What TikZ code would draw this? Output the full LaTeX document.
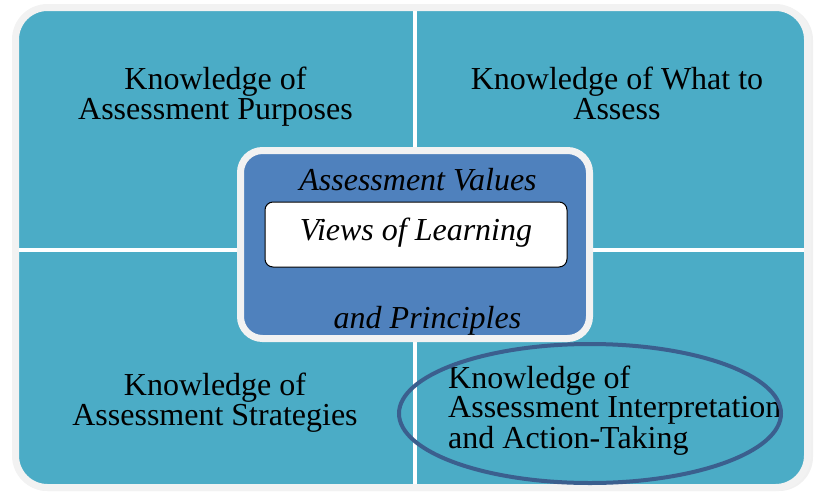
\documentclass[tikz,border=0pt]{standalone}
\usepackage{fontspec}
\setmainfont{Liberation Serif}
\usetikzlibrary{shapes.geometric}
\definecolor{aquafill}{HTML}{4BACC6}
\definecolor{bluefill}{HTML}{4F81BD}
\definecolor{ringblue}{HTML}{3B5F8E}
\definecolor{framegrey}{HTML}{F2F2F2}
\begin{document}
\begin{tikzpicture}[x=1pt,y=-1pt,
  quadtext/.style={inner sep=0pt, font=\fontsize{32}{30}\selectfont, align=center, anchor=base},
  coretext/.style={inner sep=0pt, font=\fontsize{32}{30}\selectfont\itshape, anchor=base},
  divider/.style={white, line width=4pt}]
\useasboundingbox (0,0) rectangle (814,491);
% soft shadow
\fill[black!6, rounded corners=34] (14,6) rectangle (813,491);
% outer panel
\draw[framegrey, line width=7pt, fill=aquafill, rounded corners=32] (15.5,7.5) rectangle (807.5,487.5);
% dividers
\coordinate (vt) at (415,11);
\coordinate (vb) at (415,484);
\coordinate (hl) at (19,250);
\coordinate (hr) at (804,250);
\draw[divider] (vt) -- (vb);
\draw[divider] (hl) -- (hr);
% quadrant texts (anchor base = last line's baseline)
\node[quadtext] (tl) at (215.5,119) {Knowledge of\\Assessment Purposes};
\node[quadtext] (tr) at (617,119) {Knowledge of What to\\Assess};
\node[quadtext] (bl) at (215,425) {Knowledge of\\Assessment Strategies};
\node[quadtext, align=left, anchor=base west, font=\fontsize{32}{29}\selectfont] (br) at (448,448) {Knowledge of\\Assessment Interpretation\\and Action-Taking};
% ellipse highlight
\node[ellipse, draw=ringblue, line width=4pt, minimum width=382, minimum height=139, inner sep=0pt] (ring) at (590,413.5) {};
% central box
\node[draw=framegrey, line width=7pt, fill=bluefill, rounded corners=22, minimum width=349, minimum height=188, inner sep=0pt] (core) at (415,244.5) {};
\node[coretext] (values) at (418,190) {Assessment Values};
\node[draw=black, line width=1pt, fill=white, rounded corners=8, minimum width=302, minimum height=65, inner sep=0pt, text height=20pt, text depth=9pt, font=\fontsize{32}{30}\selectfont\itshape] (views) at (416,234.5) {Views of Learning};
\node[coretext] (principles) at (427.5,328) {and Principles};
\end{tikzpicture}
\end{document}
